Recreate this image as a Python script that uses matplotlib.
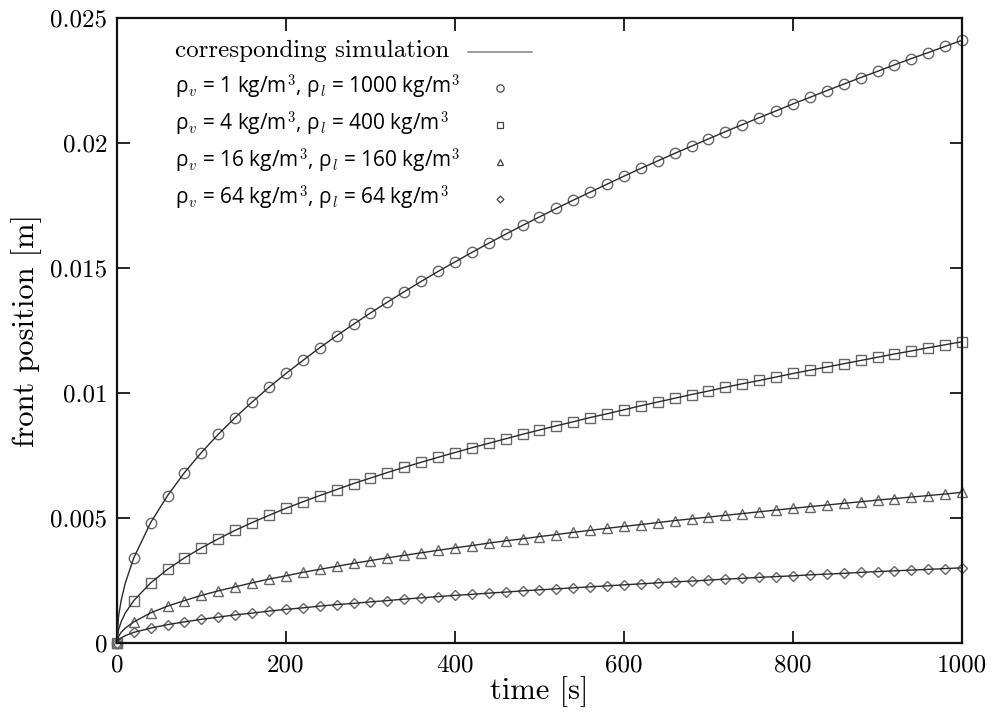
import matplotlib
matplotlib.use("Agg")
import matplotlib.pyplot as plt
from matplotlib.lines import Line2D
from matplotlib.ticker import FuncFormatter

plt.rcParams['mathtext.fontset'] = 'cm'
plt.rcParams['axes.formatter.use_mathtext'] = True

# ---------------- data (front position in mm) -------------
time_s = [0, 20, 40, 60, 80, 100, 120, 140, 160, 180, 200, 220, 240, 260, 280, 300,
          320, 340, 360, 380, 400, 420, 440, 460, 480, 500, 520, 540, 560, 580, 600,
          620, 640, 660, 680, 700, 720, 740, 760, 780, 800, 820, 840, 860, 880, 900,
          920, 940, 960, 980, 1000]

s1_mm = [0, 3.41, 4.82, 5.90, 6.82, 7.62, 8.35, 9.02, 9.64, 10.23, 10.78, 11.30, 11.81,
         12.29, 12.75, 13.20, 13.63, 14.05, 14.46, 14.86, 15.24, 15.62, 15.99, 16.35,
         16.70, 17.04, 17.38, 17.71, 18.03, 18.35, 18.67, 18.98, 19.28, 19.58, 19.87,
         20.16, 20.45, 20.73, 21.01, 21.28, 21.56, 21.82, 22.09, 22.35, 22.61, 22.86,
         23.12, 23.37, 23.61, 23.86, 24.10]
s2_mm = [0, 1.70, 2.41, 2.95, 3.41, 3.81, 4.17, 4.51, 4.82, 5.11, 5.39, 5.65, 5.90,
         6.14, 6.38, 6.60, 6.82, 7.03, 7.23, 7.43, 7.62, 7.81, 7.99, 8.17, 8.35, 8.52,
         8.69, 8.85, 9.02, 9.17, 9.33, 9.49, 9.64, 9.79, 9.94, 10.08, 10.23, 10.37,
         10.50, 10.64, 10.78, 10.91, 11.04, 11.17, 11.30, 11.43, 11.56, 11.68, 11.81,
         11.93, 12.05]
s3_mm = [0, 0.85, 1.21, 1.48, 1.70, 1.91, 2.09, 2.25, 2.41, 2.56, 2.69, 2.83, 2.95,
         3.07, 3.19, 3.30, 3.41, 3.51, 3.61, 3.71, 3.81, 3.90, 4.00, 4.09, 4.17, 4.26,
         4.34, 4.43, 4.51, 4.59, 4.67, 4.74, 4.82, 4.90, 4.97, 5.04, 5.11, 5.18, 5.25,
         5.32, 5.39, 5.46, 5.52, 5.59, 5.65, 5.72, 5.78, 5.84, 5.90, 5.96, 6.03]
s4_mm = [0, 0.43, 0.60, 0.74, 0.85, 0.95, 1.04, 1.13, 1.20, 1.28, 1.35, 1.41, 1.48,
         1.54, 1.59, 1.65, 1.70, 1.76, 1.81, 1.86, 1.91, 1.95, 2.00, 2.04, 2.09, 2.13,
         2.17, 2.21, 2.25, 2.29, 2.33, 2.37, 2.41, 2.45, 2.48, 2.52, 2.56, 2.59, 2.63,
         2.66, 2.69, 2.73, 2.76, 2.79, 2.83, 2.86, 2.89, 2.92, 2.95, 2.98, 3.01]

# extra early simulation samples (curve visible between t=0 and t=20)
sim_t_early = [0, 2, 5, 10]
sim1_early_mm = [0, 1.08, 1.70, 2.41]
sim2_early_mm = [0, 0.54, 0.85, 1.21]
sim3_early_mm = [0, 0.27, 0.43, 0.60]
sim4_early_mm = [0, 0.13, 0.21, 0.30]

labels = [
    r'ρ$_{v}$ = 1 kg/m$^{\mathsf{3}}$, ρ$_{l}$ = 1000 kg/m$^{\mathsf{3}}$',
    r'ρ$_{v}$ = 4 kg/m$^{\mathsf{3}}$, ρ$_{l}$ = 400 kg/m$^{\mathsf{3}}$',
    r'ρ$_{v}$ = 16 kg/m$^{\mathsf{3}}$, ρ$_{l}$ = 160 kg/m$^{\mathsf{3}}$',
    r'ρ$_{v}$ = 64 kg/m$^{\mathsf{3}}$, ρ$_{l}$ = 64 kg/m$^{\mathsf{3}}$',
]
sim_label = 'corresponding simulation'
x_ticks = [0, 200, 400, 600, 800, 1000]
y_ticks = [0, 0.005, 0.01, 0.015, 0.02, 0.025]

# ---------------- figure ----------------
fig = plt.figure(figsize=(9.99, 7.13), dpi=100)
ax = fig.add_axes([0.117, 0.098, 0.846, 0.877])

series = [s1_mm, s2_mm, s3_mm, s4_mm]
early = [sim1_early_mm, sim2_early_mm, sim3_early_mm, sim4_early_mm]
markers = ['o', 's', '^', 'D']
msizes = [7.5, 7, 6.5, 5]

line_col = '#2a2a2a'
mark_col = '#666666'

for vals, ev in zip(series, early):
    t_line = sim_t_early + time_s[1:]
    y_line = [v / 1000 for v in ev + vals[1:]]
    ax.plot(t_line, y_line, color=line_col, lw=1.0, zorder=3)

for vals, m, ms in zip(series, markers, msizes):
    ax.plot(time_s, [v / 1000 for v in vals], linestyle='none', marker=m, ms=ms,
            mfc='none', mec=mark_col, mew=1.0, zorder=2, clip_on=False)

ax.set_xlim(0, 1000)
ax.set_ylim(0, 0.025)
ax.set_xticks(x_ticks)
ax.set_yticks(y_ticks)
ax.xaxis.set_major_formatter(FuncFormatter(lambda v, p: '%g' % v))
ax.yaxis.set_major_formatter(FuncFormatter(lambda v, p: '%g' % v))
ax.tick_params(direction='in', length=9, width=1.2, top=True, right=True,
               labelsize=18)
ax.tick_params(axis='x', pad=8)
ax.tick_params(axis='y', pad=7)
for lab in ax.get_xticklabels() + ax.get_yticklabels():
    lab.set_fontfamily('cmr10')
for sp in ax.spines.values():
    sp.set_linewidth(1.6)
    sp.set_color('#111111')

ax.set_xlabel('time [s]', fontfamily='cmr10', fontsize=22, labelpad=0)
ax.set_ylabel('front position [m]', fontfamily='cmr10', fontsize=22, labelpad=6)

# ---------------- key (left-aligned text, sample on the right) ----------------
key_text_x = 0.0686
key_sample_x0, key_sample_x1 = 0.415, 0.491
key_mark_x = 0.453
row_base = [0.9376, 0.8784, 0.8192, 0.7600, 0.7008]
mark_dy = 0.009

ax.text(key_text_x, row_base[0], sim_label, transform=ax.transAxes,
        fontfamily='cmr10', fontsize=18, va='baseline', ha='left')
ax.add_line(Line2D([key_sample_x0, key_sample_x1],
                   [row_base[0] + 0.007, row_base[0] + 0.007],
                   transform=ax.transAxes, color='#8a8a8a', lw=1.2))
for lab, m, ms, yb in zip(labels, markers, msizes, row_base[1:]):
    ax.text(key_text_x, yb, lab, transform=ax.transAxes,
            fontfamily='Open Sans', fontsize=15, va='baseline', ha='left')
    ax.add_line(Line2D([key_mark_x], [yb + mark_dy], transform=ax.transAxes,
                       linestyle='none', marker=m, ms=ms * 0.7, mfc='none',
                       mec='#444444', mew=0.9))

fig.savefig('out.png', dpi=100)
